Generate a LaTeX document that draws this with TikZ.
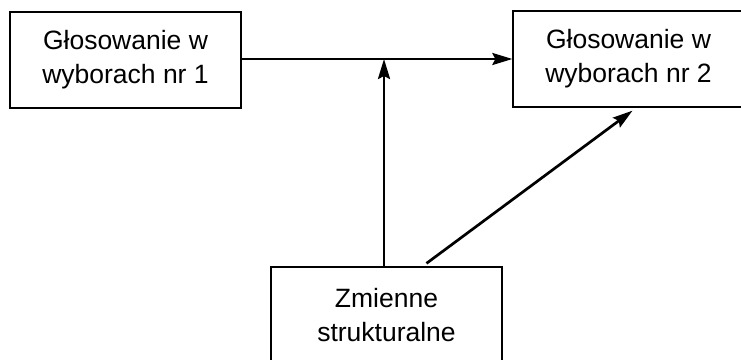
\documentclass[tikz,border=0pt]{standalone}
\usepackage{fontspec}
\setmainfont{Liberation Sans}
\usetikzlibrary{arrows.meta}

\begin{document}
\begin{tikzpicture}[->,>={Stealth[length=20pt,width=12pt,inset=3pt]},x=1pt,y=1pt,line width=2.7pt,
    box/.style={draw,line width=1.3pt,minimum width=231pt,minimum height=96pt,align=center,font=\fontsize{26.5}{34}\selectfont}]

            \useasboundingbox (0,0) rectangle (741,-359);

            \node[box] (g1) at (125.5,-60){Głosowanie w\\wyborach nr 1};
            \node[box] (g2) at (628.5,-59){Głosowanie w\\wyborach nr 2};
            \node[box] (zs) at (386.5,-315){Zmienne\\strukturalne};

            \draw[->] (g1.east |- g2.west) -- (g2.west);
            \draw[->] ([xshift=-2.5pt]zs.north) -- ([xshift=-2.5pt]zs.north |- g2.west);
            \draw[->] ([xshift=40pt,yshift=3pt]zs.north) -- ([xshift=4pt,yshift=-3pt]g2.south);

            ;
        \end{tikzpicture}
\end{document}
